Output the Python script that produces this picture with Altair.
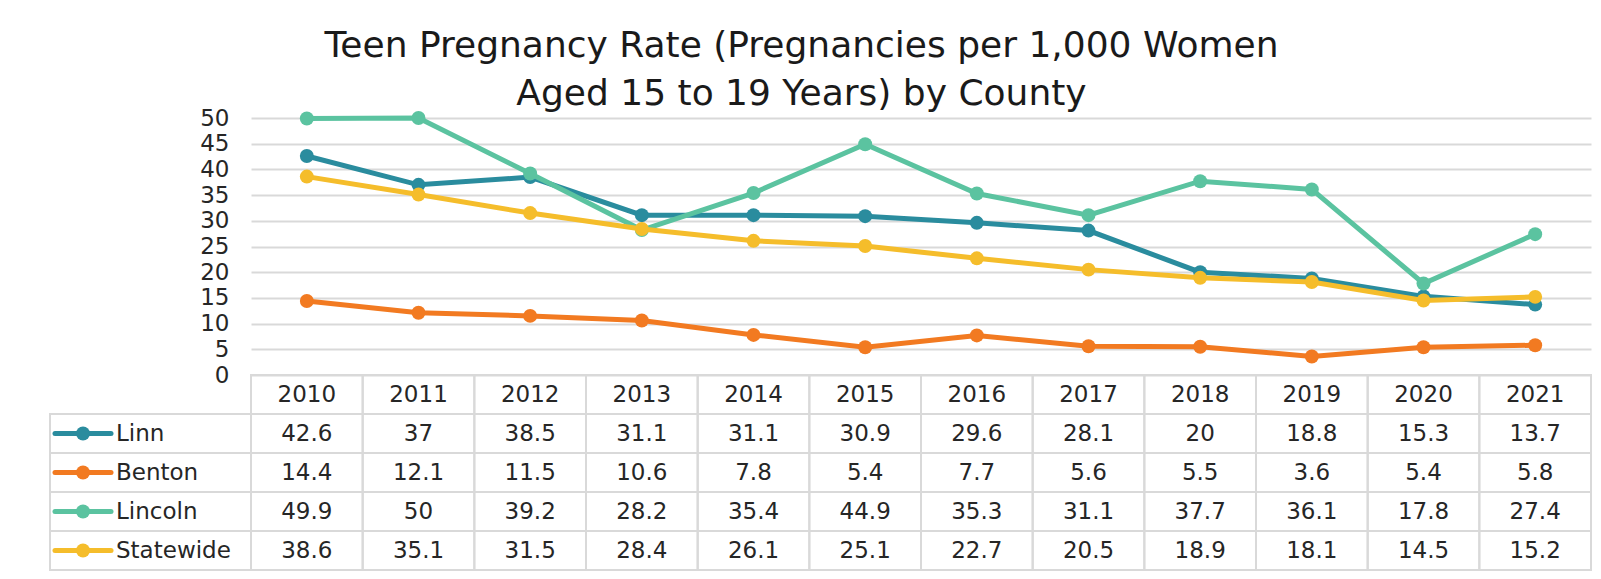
import altair as alt
import pandas as pd

# ---------------- data ----------------
years = [2010, 2011, 2012, 2013, 2014, 2015, 2016, 2017, 2018, 2019, 2020, 2021]
series_names = ["Linn", "Benton", "Lincoln", "Statewide"]
linn = [42.6, 37, 38.5, 31.1, 31.1, 30.9, 29.6, 28.1, 20, 18.8, 15.3, 13.7]
benton = [14.4, 12.1, 11.5, 10.6, 7.8, 5.4, 7.7, 5.6, 5.5, 3.6, 5.4, 5.8]
lincoln = [49.9, 50, 39.2, 28.2, 35.4, 44.9, 35.3, 31.1, 37.7, 36.1, 17.8, 27.4]
statewide = [38.6, 35.1, 31.5, 28.4, 26.1, 25.1, 22.7, 20.5, 18.9, 18.1, 14.5, 15.2]
y_ticks = [0, 5, 10, 15, 20, 25, 30, 35, 40, 45, 50]
title_lines = ["Teen Pregnancy Rate (Pregnancies per 1,000 Women",
               "Aged 15 to 19 Years) by County"]

# ---------------- style ----------------
colors = ["#2A8C9E", "#F27A21", "#5BC3A0", "#F5BD2B"]
FONT = "DejaVu Sans"
TEXT = "#262626"
GRID = "#d9d9d9"
LEFT_W = 201
PLOT_W = 1340
PLOT_H = 257
TABLE_H = 195

year_str = [str(y) for y in years]
values = {"Linn": linn, "Benton": benton, "Lincoln": lincoln, "Statewide": statewide}


def fmt(v):
    return f"{v:g}"


long_rows = []
for s in series_names:
    for y, v in zip(year_str, values[s]):
        long_rows.append({"year": y, "series": s, "value": v, "label": fmt(v)})
df = pd.DataFrame(long_rows)

row_domain = ["Year"] + series_names
cells = [{"year": y, "row": "Year", "label": y} for y in year_str]
cells += [{"year": r["year"], "row": r["series"], "label": r["label"]} for r in long_rows]
cells_df = pd.DataFrame(cells)

legend_df = pd.DataFrame({"row": series_names})

color_scale = alt.Scale(domain=series_names, range=colors)

# ---------------- top line chart ----------------
x_enc = alt.X("year:O", sort=year_str, axis=None, scale=alt.Scale(padding=0.5))
y_enc = alt.Y(
    "value:Q",
    scale=alt.Scale(domain=[0, 50], nice=False),
    axis=alt.Axis(values=y_ticks, title=None, domain=False, ticks=False,
                  labelFontSize=23, labelFont=FONT, labelColor=TEXT,
                  labelPadding=22, grid=True, gridColor=GRID, gridWidth=2),
)

layers = []
for s in series_names:
    base = alt.Chart(df).transform_filter(alt.datum.series == s)
    layers.append(base.mark_line(strokeWidth=5).encode(
        x=x_enc, y=y_enc,
        color=alt.Color("series:N", scale=color_scale, legend=None)))
    layers.append(base.mark_circle(size=195, opacity=1).encode(
        x=x_enc, y=y_enc,
        color=alt.Color("series:N", scale=color_scale, legend=None)))

top = alt.layer(*layers).properties(width=PLOT_W, height=PLOT_H)

# ---------------- empty top-left cell ----------------
empty = alt.Chart(pd.DataFrame({"v": [0]})).mark_point(opacity=0).encode(
    x=alt.X("v:Q", axis=None), y=alt.Y("v:Q", axis=None)
).properties(width=LEFT_W, height=PLOT_H)

# ---------------- data table ----------------
x_t = alt.X("year:O", sort=year_str, axis=None,
            scale=alt.Scale(paddingInner=0, paddingOuter=0))
y_t = alt.Y("row:N", sort=row_domain, axis=None,
            scale=alt.Scale(domain=row_domain, paddingInner=0, paddingOuter=0))
tbase = alt.Chart(cells_df).encode(x=x_t, y=y_t)
table = alt.layer(
    tbase.mark_rect(fill="white", fillOpacity=0, stroke=GRID, strokeWidth=2),
    tbase.mark_text(font=FONT, fontSize=23, color=TEXT).encode(text="label:N"),
).properties(width=PLOT_W, height=TABLE_H)

# ---------------- legend column ----------------
y_l = alt.Y("row:N", sort=row_domain, axis=None,
            scale=alt.Scale(domain=row_domain, paddingInner=0, paddingOuter=0))
lbase = alt.Chart(legend_df).encode(y=y_l)
legend_col = alt.layer(
    lbase.mark_rect(fill="white", fillOpacity=0, stroke=GRID, strokeWidth=2).encode(
        x=alt.value(0), x2=alt.value("width")),
    lbase.mark_rule(strokeWidth=5, strokeCap="round").encode(
        x=alt.value(5), x2=alt.value(61),
        color=alt.Color("row:N", scale=color_scale, legend=None)),
    lbase.mark_circle(size=195, opacity=1).encode(
        x=alt.value(33),
        color=alt.Color("row:N", scale=color_scale, legend=None)),
    lbase.mark_text(font=FONT, fontSize=23, color=TEXT, align="left").encode(
        x=alt.value(66), text="row:N"),
).properties(width=LEFT_W, height=TABLE_H)

chart = alt.concat(
    empty, top, legend_col, table, columns=2, spacing=0, bounds="flush"
).properties(
    title=alt.TitleParams(text=title_lines, font=FONT, fontSize=36,
                          fontWeight="normal", color="#1a1a1a", anchor="middle",
                          dx=-19, lineHeight=48, offset=-6),
    padding={"left": 41, "top": 20, "right": 0, "bottom": 0},
).configure_view(strokeWidth=0)

chart.save("out.html", embed_options={"renderer": "svg", "actions": False})
